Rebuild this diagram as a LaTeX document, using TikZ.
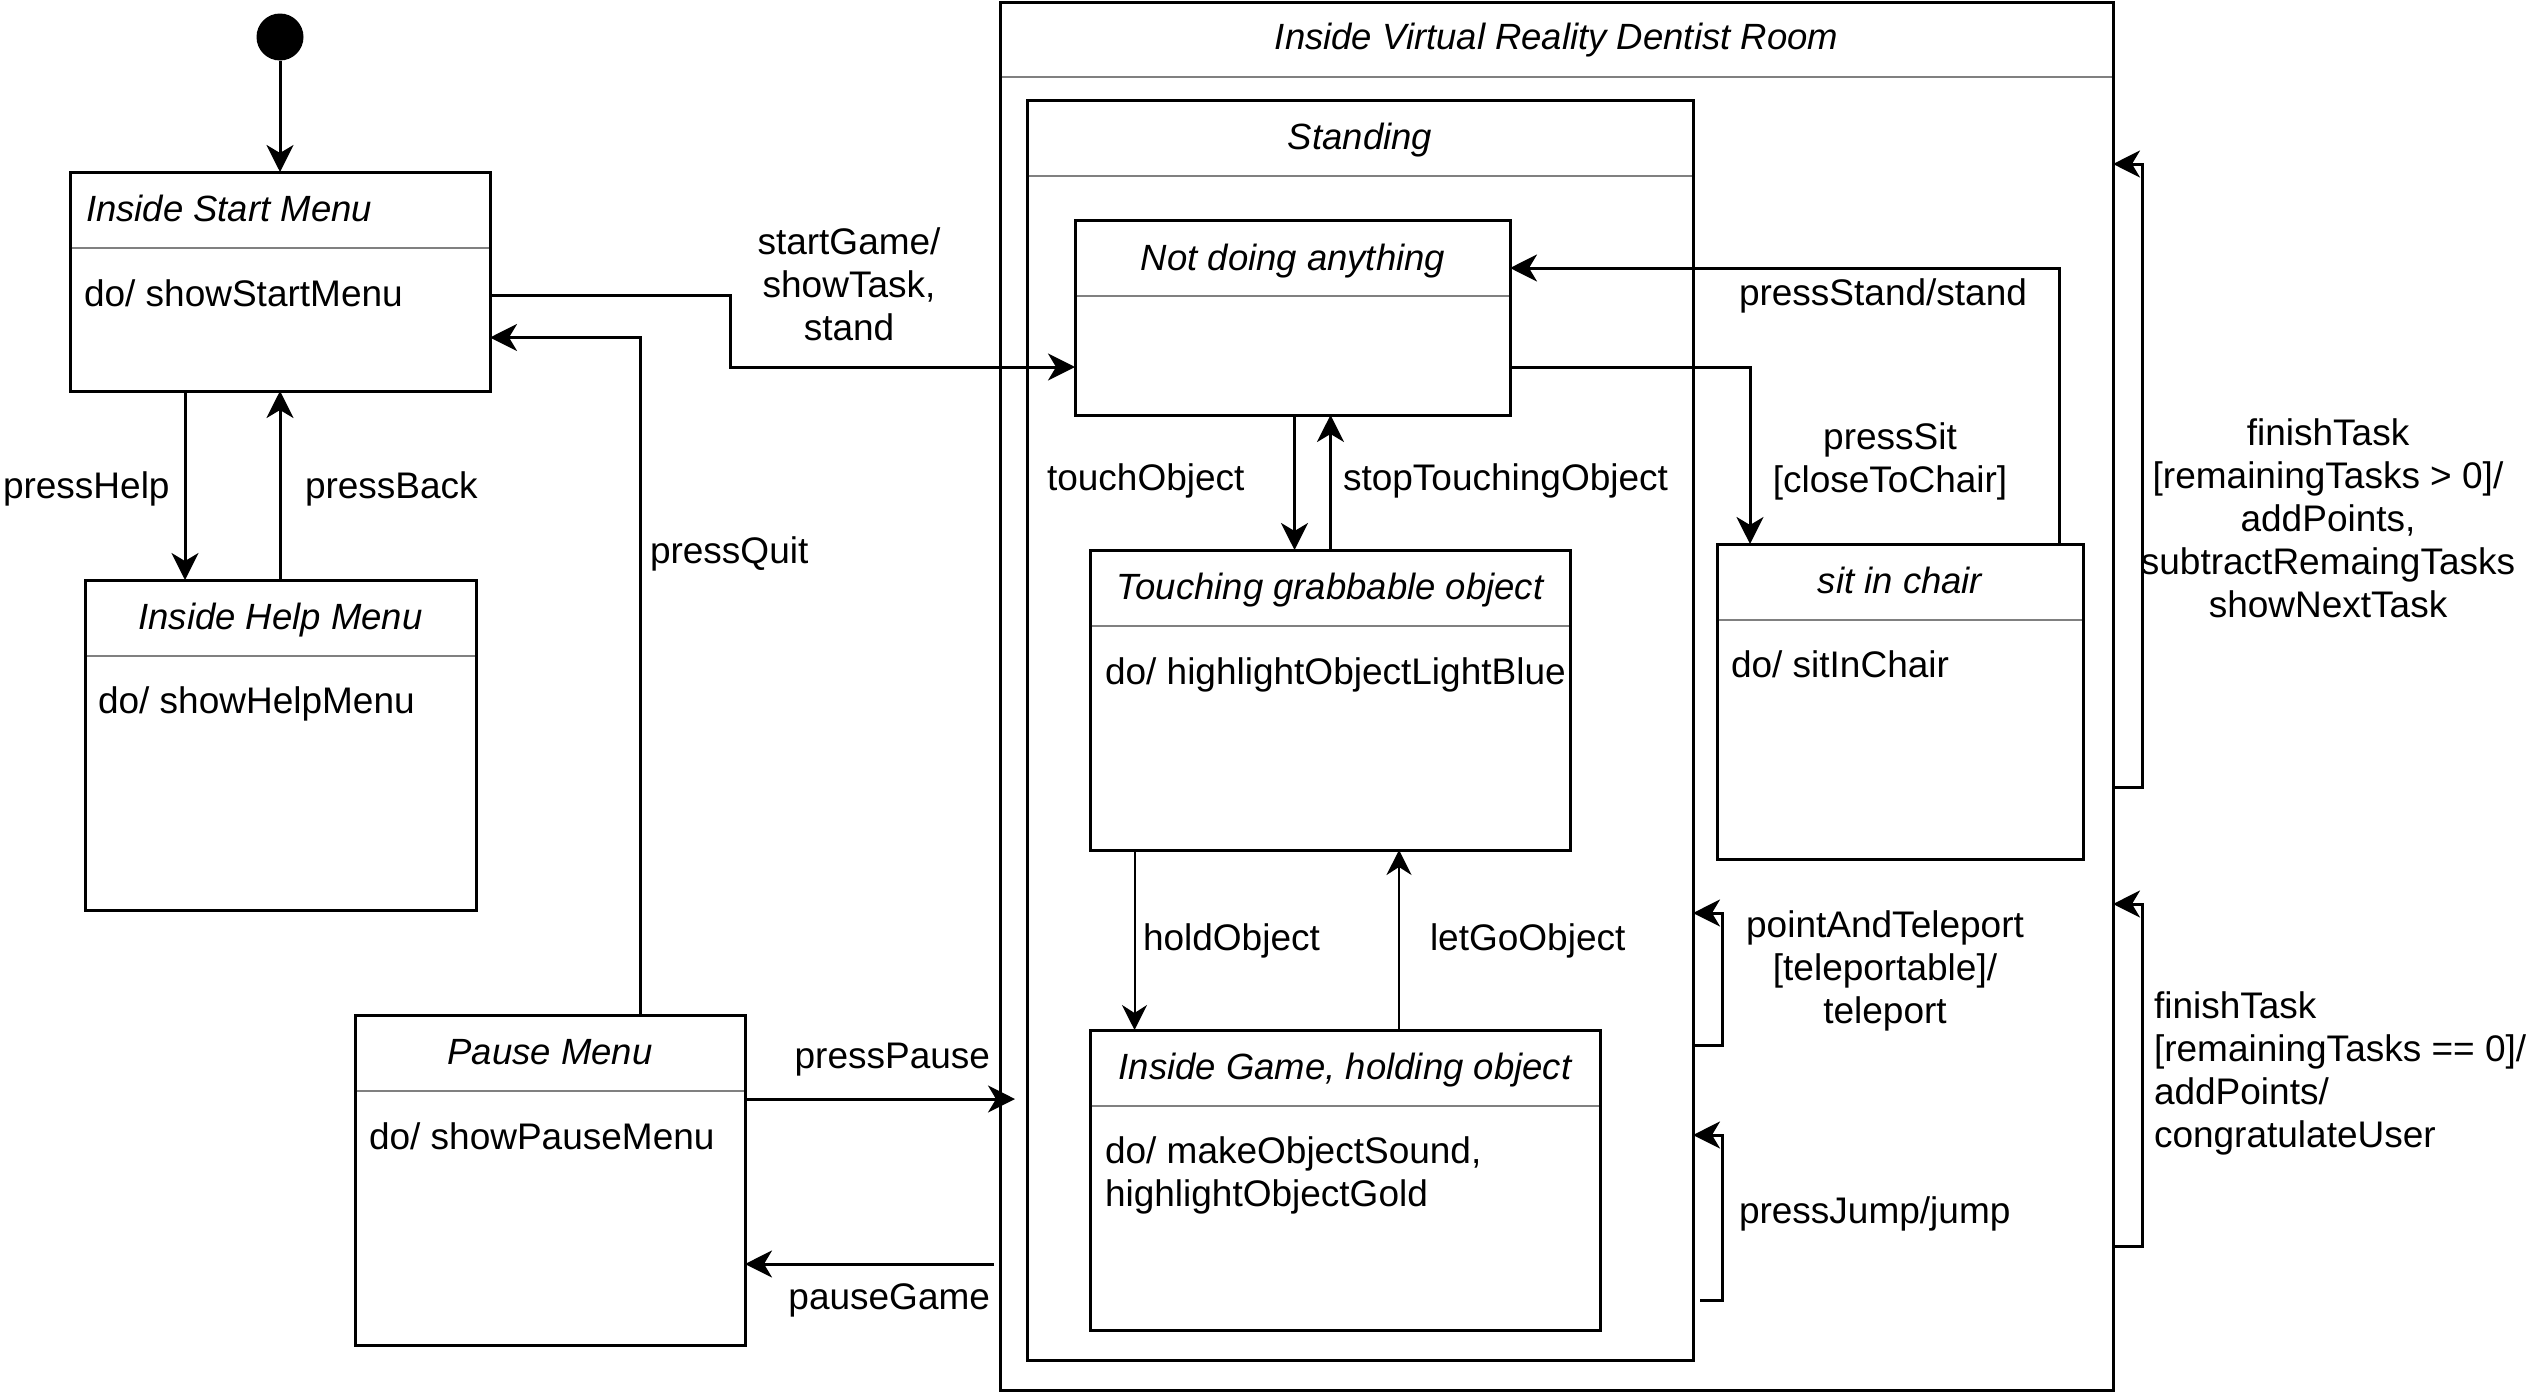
\documentclass[tikz,border=0pt]{standalone}
\usepackage{fontspec}
\setmainfont{Liberation Sans}
\usetikzlibrary{arrows.meta}
\begin{document}
\begin{tikzpicture}[x=1pt,y=-1pt,
  every node/.style={inner sep=0pt, outer sep=0pt, font=\fontsize{37}{43}\selectfont},
  statebox/.style={draw, line width=3pt, rectangle, anchor=north west},
  sepline/.style={draw=black!50, line width=2.5pt, shorten <=1.5pt, shorten >=1.5pt},
  arr/.style={line width=3pt, -{Stealth[length=27pt,width=27pt,inset=8pt]}},
  thinarr/.style={line width=2pt, -{Stealth[length=25pt,width=25pt,inset=8pt]}},
  ttl/.style={font=\fontsize{36.5}{43}\selectfont\itshape},
  lbl/.style={align=center},
  lbll/.style={align=left}
]
\fill[white] (0,0) rectangle (2529,1392);
\useasboundingbox (0,0) rectangle (2529,1392);

% initial state
\node[circle, fill=black, minimum size=47pt] (init) at (280,37) {};

% state boxes
\node[statebox, minimum width=420pt, minimum height=219pt] (start) at (70,172) {};
\node[statebox, minimum width=391pt, minimum height=330pt] (help) at (85,580) {};
\node[statebox, minimum width=390pt, minimum height=330pt] (pause) at (355,1015) {};
\node[statebox, minimum width=1113pt, minimum height=1388pt] (room) at (1000,2) {};
\node[statebox, minimum width=666pt, minimum height=1260pt] (standing) at (1027,100) {};
\node[statebox, minimum width=435pt, minimum height=195pt] (notdoing) at (1075,220) {};
\node[statebox, minimum width=480pt, minimum height=300pt] (touching) at (1090,550) {};
\node[statebox, minimum width=510pt, minimum height=300pt] (game) at (1090,1030) {};
\node[statebox, minimum width=366pt, minimum height=315pt] (sit) at (1717,544) {};

% separators
\draw[sepline] (start.west |- 0,248) -- (start.east |- 0,248);
\draw[sepline] (help.west |- 0,656) -- (help.east |- 0,656);
\draw[sepline] (pause.west |- 0,1091) -- (pause.east |- 0,1091);
\draw[sepline] (room.west |- 0,77) -- (room.east |- 0,77);
\draw[sepline] (standing.west |- 0,176) -- (standing.east |- 0,176);
\draw[sepline] (notdoing.west |- 0,296) -- (notdoing.east |- 0,296);
\draw[sepline] (touching.west |- 0,626) -- (touching.east |- 0,626);
\draw[sepline] (game.west |- 0,1106) -- (game.east |- 0,1106);
\draw[sepline] (sit.west |- 0,620) -- (sit.east |- 0,620);

% titles and bodies
\node[ttl, anchor=north west] (tstart) at (86,195) {Inside Start Menu};
\node[anchor=north west] (bstart) at (84,280) {do/ showStartMenu};
\node[ttl, anchor=north] (thelp) at (280.5,603) {Inside Help Menu};
\node[anchor=north west] (bhelp) at (98,687) {do/ showHelpMenu};
\node[ttl, anchor=north] (tpause) at (550,1039) {Pause Menu};
\node[anchor=north west] (bpause) at (369,1123) {do/ showPauseMenu};
\node[ttl, anchor=north] (troom) at (1556.5,23) {Inside Virtual Reality Dentist Room};
\node[ttl, anchor=north] (tstanding) at (1360,123) {Standing};
\node[ttl, anchor=north] (tnotdoing) at (1293,244) {Not doing anything};
\node[ttl, anchor=north] (ttouching) at (1330,573) {Touching grabbable object};
\node[anchor=north west] (btouching) at (1105,658) {do/ highlightObjectLightBlue};
\node[ttl, anchor=north] (tgame) at (1345,1053) {Inside Game, holding object};
\node[lbll, anchor=north west] (bgame) at (1105,1137) {do/ makeObjectSound,\\highlightObjectGold};
\node[ttl, anchor=north] (tsit) at (1900,567) {sit in chair};
\node[anchor=north west] (bsit) at (1731,651) {do/ sitInChair};

% connectors
\draw[arr] (init) -- (start.north);
\draw[arr] (start.east |- 0,295) -| (730,367) -- (notdoing.west |- 0,367);
\draw[arr] (start.south -| 185,0) -- (help.north -| 185,0);
\draw[arr] (help.north -| 280,0) -- (start.south -| 280,0);
\draw[arr] (pause.north -| 640,0) |- (start.east |- 0,337.5);
\coordinate (ppend) at (1015,1099);
\draw[arr] (pause.east |- 0,1099) -- (ppend);
\coordinate (pgstart) at (994,1264);
\draw[arr] (pgstart) -- (pause.east |- 0,1264);
\draw[arr] (notdoing.south -| 1294.5,0) -- (touching.north -| 1294.5,0);
\draw[arr] (touching.north -| 1330.5,0) -- (notdoing.south -| 1330.5,0);
\draw[arr] (notdoing.east |- 0,367) -| (sit.north -| 1750,0);
\draw[arr] (sit.north -| 2059,0) |- (notdoing.east |- 0,268);
\draw[thinarr] (touching.south -| 1134.5,0) -- (game.north -| 1134.5,0);
\draw[thinarr] (game.north -| 1399,0) -- (touching.south -| 1399,0);
\draw[arr] (standing.east |- 0,1045) -| (1722,913) -- (standing.east |- 0,913);
\coordinate (jstart) at (1700,1300.5);
\draw[arr] (jstart) -| (1722,1135) -- (standing.east |- 0,1135);
\draw[arr] (room.east |- 0,787) -| (2142,164) -- (room.east |- 0,164);
\draw[arr] (room.east |- 0,1246) -| (2142,904) -- (room.east |- 0,904);

% connector labels
\node[lbl, anchor=north] (lstart) at (849,228) {startGame/\\showTask,\\stand};
\node[anchor=north west] (lhelp) at (3,472) {pressHelp};
\node[anchor=north west] (lback) at (305,472) {pressBack};
\node[anchor=north west] (lquit) at (650,537) {pressQuit};
\node[anchor=north east] (lpause) at (990,1043) {pressPause};
\node[anchor=north east] (lpgame) at (990,1284) {pauseGame};
\node[anchor=north west] (ltouch) at (1047,464) {touchObject};
\node[anchor=north west] (lstop) at (1343,464) {stopTouchingObject};
\node[anchor=north west] (lstand) at (1739,279) {pressStand/stand};
\node[lbl, anchor=north] (lsit) at (1890,423) {pressSit\\{}[closeToChair]};
\node[lbl, anchor=north] (lfin1) at (2328,419) {finishTask\\{}[remainingTasks > 0]/\\addPoints,\\subtractRemaingTasks\\showNextTask};
\node[lbl, anchor=north] (ltele) at (1885,911) {pointAndTeleport\\{}[teleportable]/\\teleport};
\node[anchor=north west] (lhold) at (1143,924) {holdObject};
\node[anchor=north west] (lletgo) at (1430,924) {letGoObject};
\node[anchor=north west] (ljump) at (1739,1197) {pressJump/jump};
\node[lbll, anchor=north west] (lfin2) at (2154,992) {finishTask\\{}[remainingTasks == 0]/\\addPoints/\\congratulateUser};
\end{tikzpicture}
\end{document}
